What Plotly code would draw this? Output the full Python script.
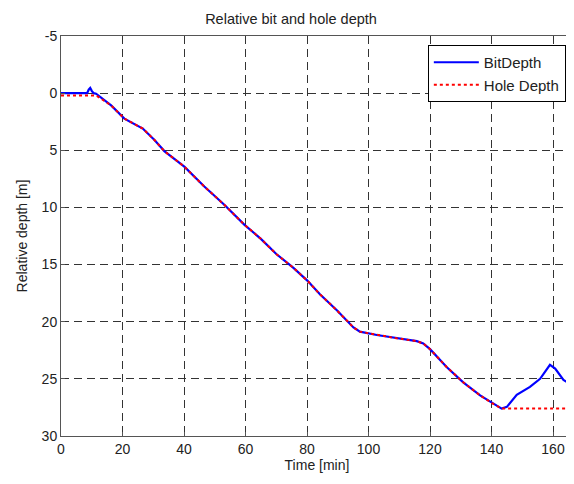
import plotly.graph_objects as go

# Bit depth trace (time in minutes, relative depth in metres)
bit_time = [0, 8.5, 9.0, 9.5, 10.0, 10.6, 11.4, 16.3, 20.6, 26.6, 30.4, 33.6, 40.1,
            46.6, 53.1, 59.6, 65.0, 70.1, 75.5, 80.1, 84.2, 89.7, 95.1, 97.2, 102.7,
            109.2, 115.7, 117.8, 120.0, 125.4, 130.8, 136.3, 140.6, 143.3, 145.0,
            148.2, 152.5, 155.8, 159.0, 160.7, 163.4, 166.6]
bit_depth = [0.0, 0.0, -0.3, -0.45, -0.2, 0.0, 0.05, 1.07, 2.23, 3.1, 4.1, 5.07, 6.43,
             8.17, 9.77, 11.5, 12.75, 14.1, 15.27, 16.4, 17.6, 19.0, 20.5, 20.87, 21.16,
             21.45, 21.7, 21.9, 22.4, 23.96, 25.3, 26.45, 27.2, 27.6, 27.45,
             26.4, 25.7, 25.0, 23.77, 24.1, 25.1, 25.6]

# Hole depth trace
hole_time = [0, 10.6, 11.4, 16.3, 20.6, 26.6, 30.4, 33.6, 40.1,
             46.6, 53.1, 59.6, 65.0, 70.1, 75.5, 80.1, 84.2, 89.7, 95.1, 97.2, 102.7,
             109.2, 115.7, 117.8, 120.0, 125.4, 130.8, 136.3, 140.6, 143.3, 166.6]
hole_depth = [0.2, 0.2, 0.2, 1.07, 2.23, 3.1, 4.1, 5.07, 6.43,
              8.17, 9.77, 11.5, 12.75, 14.1, 15.27, 16.4, 17.6, 19.0, 20.5, 20.87, 21.16,
              21.45, 21.7, 21.9, 22.4, 23.96, 25.3, 26.45, 27.2, 27.6, 27.6]

x_ticks = [0, 20, 40, 60, 80, 100, 120, 140, 160]
y_ticks = [-5, 0, 5, 10, 15, 20, 25, 30]
y_tick_labels = ["-5", "0", "5", "10", "15", "20", "25", "30"]

FONT = "Liberation Sans, Arial, sans-serif"

fig = go.Figure()
fig.add_trace(go.Scatter(x=bit_time, y=bit_depth, mode="lines", name="BitDepth",
                         line=dict(color="#0000ff", width=2.2)))
fig.add_trace(go.Scatter(x=hole_time, y=hole_depth, mode="lines", name="Hole Depth",
                         line=dict(color="#ff0000", width=2, dash="dot")))

axis_common = dict(
    showline=True, linecolor="#555555", linewidth=1, mirror=True,
    showgrid=True, gridcolor="#333333", gridwidth=1, griddash="8px,5px",
    ticks="inside", ticklen=4, tickcolor="#555555",
    zeroline=False, tickfont=dict(size=14, color="#222222", family=FONT),
)

fig.update_layout(
    width=566, height=476,
    margin=dict(l=53, r=1, t=28, b=48),
    paper_bgcolor="white", plot_bgcolor="white",
    font=dict(family=FONT, size=14, color="#222222"),
    title=dict(text="Relative bit and hole depth", x=0.5, xanchor="center",
               y=1 - 11 / 476, yanchor="middle", font=dict(size=14.5, family=FONT)),
    xaxis=dict(range=[0, 166.5], tickvals=x_ticks,
               title=dict(text="Time [min]", standoff=2, font=dict(size=14)),
               **axis_common),
    yaxis=dict(range=[30, -5], tickvals=y_ticks, ticktext=y_tick_labels,
               title=dict(text="Relative depth [m]", standoff=10, font=dict(size=14)),
               **axis_common),
    legend=dict(x=0.986, y=0.9775, xanchor="right", yanchor="top",
                bgcolor="white", bordercolor="#000000", borderwidth=1,
                font=dict(size=15, family=FONT), itemwidth=45,
                tracegroupgap=0),
    showlegend=True,
)

fig.write_html("out.html")
